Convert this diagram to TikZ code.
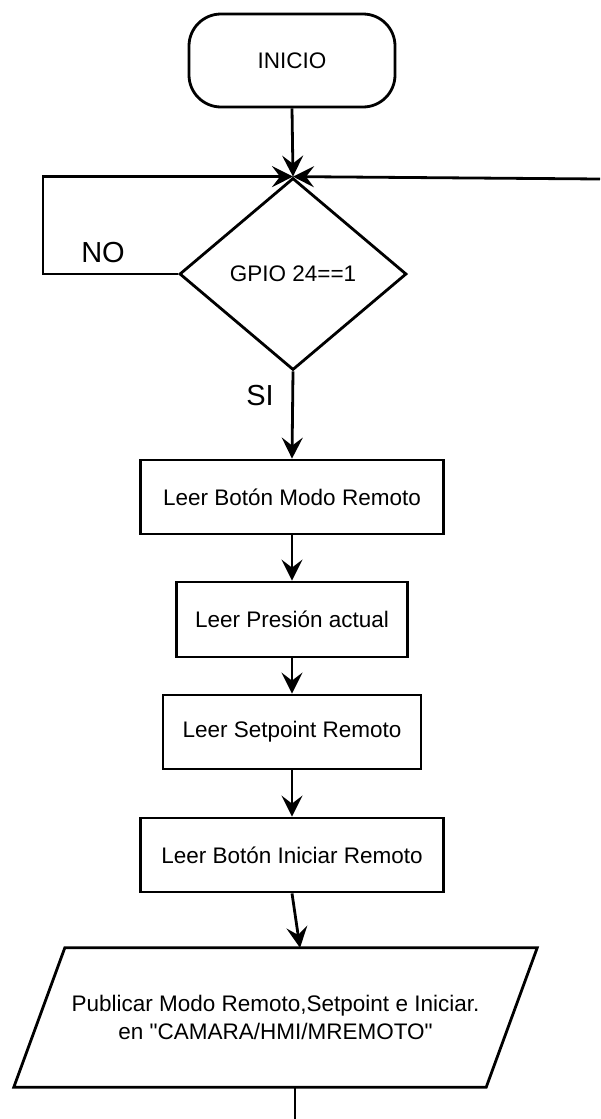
\documentclass[tikz,border=0pt]{standalone}
\usepackage{fontspec}
\setmainfont{Liberation Sans}
\usetikzlibrary{shapes.geometric,arrows.meta,calc}
\begin{document}
\begin{tikzpicture}[x=1pt,y=-1pt,
  every node/.style={font=\fontsize{22.5}{28}\selectfont, text=black},
  ln/.style={line width=2.8pt, draw=black},
  arr/.style={ln, -{Stealth[length=21pt,width=21pt,inset=8pt]}},
  procbox/.style={rectangle, ln, minimum height=74pt, inner sep=0pt},
  lbl/.style={font=\fontsize{29}{32}\selectfont, inner sep=0pt}
]
\useasboundingbox (0,0) rectangle (600,1119);
\node[procbox, rounded corners=32pt, minimum width=206pt, minimum height=93pt] (ini) at (292,60.5) {INICIO};
\node[diamond, ln, minimum width=227pt, minimum height=192pt, inner sep=0pt] (dia) at (293,274) {GPIO 24==1};
\node[procbox, minimum width=303pt] (b1) at (292,497) {Leer Botón Modo Remoto};
\node[procbox, minimum width=231pt, minimum height=75pt] (b2) at (292,619.5) {Leer Presión actual};
\node[procbox, minimum width=258pt] (b3) at (292,732) {Leer Setpoint Remoto};
\node[procbox, minimum width=303pt] (b4) at (292,855) {Leer Botón Iniciar Remoto};
\node[rectangle, minimum width=472pt, minimum height=139pt, inner sep=0pt, align=center] (pub) at (275.5,1017.5)
  {Publicar Modo Remoto,Setpoint e Iniciar.\\en \textquotedbl CAMARA/HMI/MREMOTO\textquotedbl};
\draw[ln, line join=miter] ([xshift=25.5pt]pub.north west) -- ([xshift=25.5pt]pub.north east)
  -- ([xshift=-25.5pt]pub.south east) -- ([xshift=-25.5pt]pub.south west) -- cycle;
\node[lbl] (no) at (103,253) {NO};
\node[lbl] (si) at (260,396) {SI};
\coordinate (loopL) at (43,0);
\coordinate (rEnd) at (600,179);
\coordinate (bEnd) at (295,1119);
\draw[arr] (ini.south) -- (dia.north);
\draw[arr] (dia.west) -- (loopL |- dia.west) -- (loopL |- dia.north) -- (dia.north);
\draw[arr] (rEnd) -- (dia.north);
\draw[arr] (dia.south) -- (b1.north);
\draw[arr] (b1.south) -- (b2.north);
\draw[arr] (b2.south) -- (b3.north);
\draw[arr] (b3.south) -- (b4.north);
\draw[arr] (b4.south) -- ([xshift=24.5pt]pub.north);
\draw[ln] (pub.south -| bEnd) -- (bEnd);
\end{tikzpicture}
\end{document}
